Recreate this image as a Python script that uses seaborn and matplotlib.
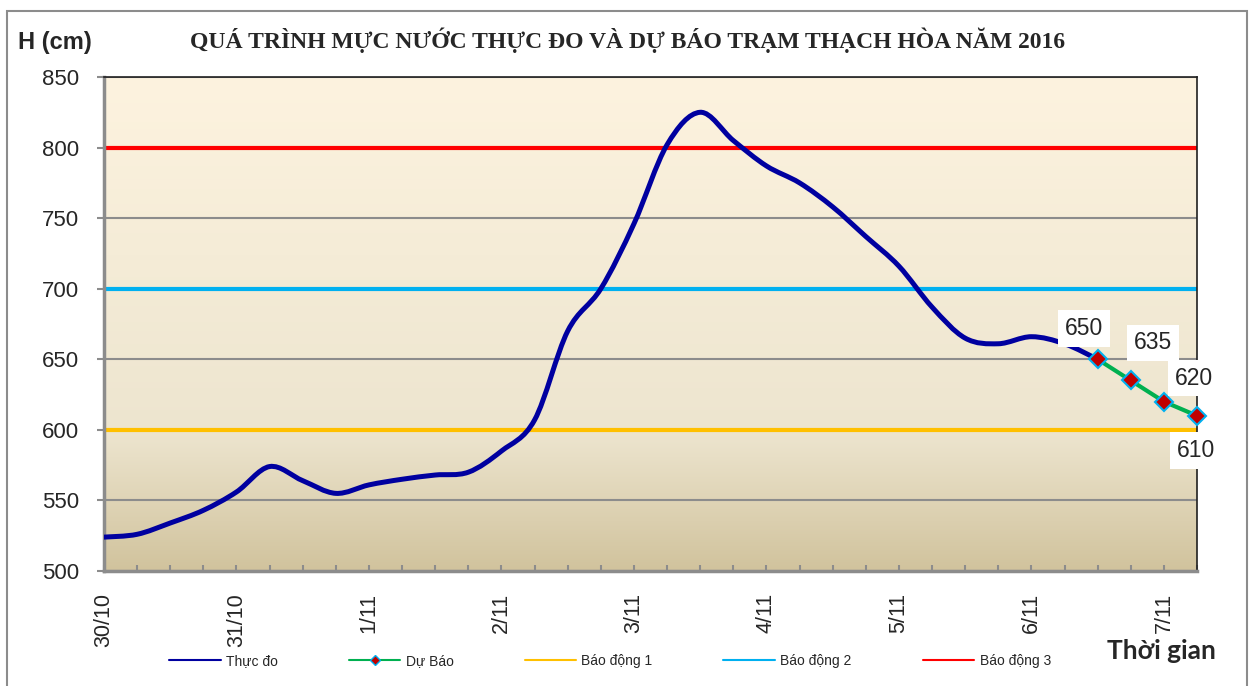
import numpy as np
import matplotlib
matplotlib.use("Agg")
import matplotlib.pyplot as plt
import seaborn as sns
import pandas as pd
from matplotlib.path import Path
from matplotlib.patches import PathPatch, Rectangle
from matplotlib.lines import Line2D

# --- data (6-hourly steps starting 30/10) ---
day_labels = ["30/10", "31/10", "1/11", "2/11", "3/11", "4/11", "5/11", "6/11", "7/11"]
steps_per_day = 4
n_steps = 34

measured = [524, 526, 534, 543, 556, 574, 564, 555, 561, 565, 568, 570, 585, 607,
            670, 700, 746, 802, 825, 805, 787, 775, 758, 737, 716, 687, 665, 661,
            666, 661, 650]
forecast_start = 30
forecast = [650, 635, 620, 610]

alarm_levels = [600, 700, 800]
alarm_names = ["Báo động 1", "Báo động 2", "Báo động 3"]
alarm_colors = ["#FFC000", "#00B0F0", "#FF0000"]

# label offsets (points) for forecast values
label_offsets = [(-10, 22), (16, 27), (22, 17), (-1, -25)]


def smooth_path(x, y):
    # excel-style smoothed line (catmull-rom -> bezier)
    pts = np.column_stack([x, y]).astype(float)
    n = len(pts)
    verts = [pts[0]]
    codes = [Path.MOVETO]
    for i in range(n - 1):
        p0 = pts[max(i - 1, 0)]
        p1 = pts[i]
        p2 = pts[i + 1]
        p3 = pts[min(i + 2, n - 1)]
        verts += [p1 + (p2 - p0) / 6, p2 - (p3 - p1) / 6, p2]
        codes += [Path.CURVE4] * 3
    return Path(verts, codes)


sns.set_theme(style="white")
plt.rcParams["font.family"] = ["Liberation Sans", "DejaVu Sans"]

fig = plt.figure(figsize=(12.52, 6.86), dpi=100)
ax = fig.add_axes([104 / 1252, 1 - 571 / 686, (1197 - 104) / 1252, (571 - 77) / 686])

# background gradient
c_top = np.array([253, 243, 223]) / 255
c_mid = np.array([237, 229, 207]) / 255
c_bot = np.array([209, 195, 157]) / 255
t = np.linspace(0, 1, 256)[:, None]
grad = np.where(t < 0.72, c_top + (c_mid - c_top) * (t / 0.72),
                c_mid + (c_bot - c_mid) * ((t - 0.72) / 0.28))
ax.imshow(grad[:, None, :], extent=[0, 1, 0, 1], transform=ax.transAxes,
          aspect="auto", zorder=0)

ax.set_xlim(0, n_steps - 1)
ax.set_ylim(500, 850)
ax.set_yticks(np.arange(500, 851, 50))
ax.set_axisbelow(True)
ax.yaxis.grid(True, color="#8C8C8C", lw=1.5)
ax.xaxis.grid(False)

for lvl, col in zip(alarm_levels, alarm_colors):
    ax.axhline(lvl, color=col, lw=3, zorder=2)

# measured
x_meas = np.arange(len(measured))
ax.add_patch(PathPatch(smooth_path(x_meas, measured), fill=False,
                       edgecolor="#0000A0", lw=3.6, zorder=3, capstyle="round"))

# forecast
df_fc = pd.DataFrame({"t": np.arange(forecast_start, forecast_start + len(forecast)),
                      "h": forecast})
sns.lineplot(data=df_fc, x="t", y="h", ax=ax, color="#00B050", lw=3,
             marker="D", markersize=9, markerfacecolor="#C00000",
             markeredgecolor="#00B0F0", markeredgewidth=1.5, zorder=4,
             clip_on=False)
for (xi, yi), off in zip(zip(df_fc["t"], df_fc["h"]), label_offsets):
    ax.annotate(f"{yi}", (xi, yi), xytext=off, textcoords="offset points",
                ha="center", va="center", fontsize=16.5, zorder=6,
                bbox=dict(boxstyle="square,pad=0.3", fc="white", ec="none"))

# axes styling
ax.set_xlabel("")
ax.set_ylabel("")
tick_labels = [day_labels[i // steps_per_day] if i % steps_per_day == 0 else ""
               for i in range(n_steps)]
ax.set_xticks(range(n_steps))
ax.set_xticklabels(tick_labels, rotation=90, fontsize=15.5)
ax.tick_params(axis="x", direction="in", length=4, width=1.5, color="#8C8C8C",
               pad=16, bottom=True)
ax.tick_params(axis="y", direction="out", length=5, width=1.5, color="#8C8C8C",
               pad=13, labelsize=16, left=True)
for side in ["left", "bottom"]:
    ax.spines[side].set_color("#8C8C8C")
    ax.spines[side].set_linewidth(2.5)
for side in ["top", "right"]:
    ax.spines[side].set_color("#202020")
    ax.spines[side].set_linewidth(1.2)

# texts
fig.text(628 / 1252, 1 - 40 / 686,
         "QUÁ TRÌNH MỰC NƯỚC THỰC ĐO VÀ DỰ BÁO TRẠM THẠCH HÒA NĂM 2016",
         ha="center", va="center", fontsize=17, fontweight="bold",
         family=["Liberation Serif", "DejaVu Serif"])
fig.text(18 / 1252, 1 - 43 / 686, "H (cm)", ha="left", va="center",
         fontsize=17, fontweight="bold")
fig.text(1161 / 1252, 1 - 651 / 686, "Thời gian", ha="center", va="center",
         fontsize=19, fontweight="bold", family=["Lato", "DejaVu Sans"])

# legend
handles = [Line2D([], [], color="#0000A0", lw=1.5),
           Line2D([], [], color="#00B050", lw=1.5, marker="D", markersize=5,
                  markerfacecolor="#C00000", markeredgecolor="#00B0F0")]
handles += [Line2D([], [], color=c, lw=1.5) for c in alarm_colors]
labels = ["Thực đo", "Dự Báo"] + alarm_names
fig.legend(handles, labels, loc="center", bbox_to_anchor=(610 / 1252, 1 - 661 / 686),
           ncol=5, fontsize=10, frameon=False, handlelength=3.7,
           handletextpad=0.4, columnspacing=5.1)

# outer chart border
fig.add_artist(Rectangle((7 / 1252, -0.1), (1247 - 7) / 1252, 1 - 11 / 686 + 0.1,
                         transform=fig.transFigure, fill=False,
                         edgecolor="#8C8C8C", lw=1.5))

fig.savefig("out.png", dpi=100)
